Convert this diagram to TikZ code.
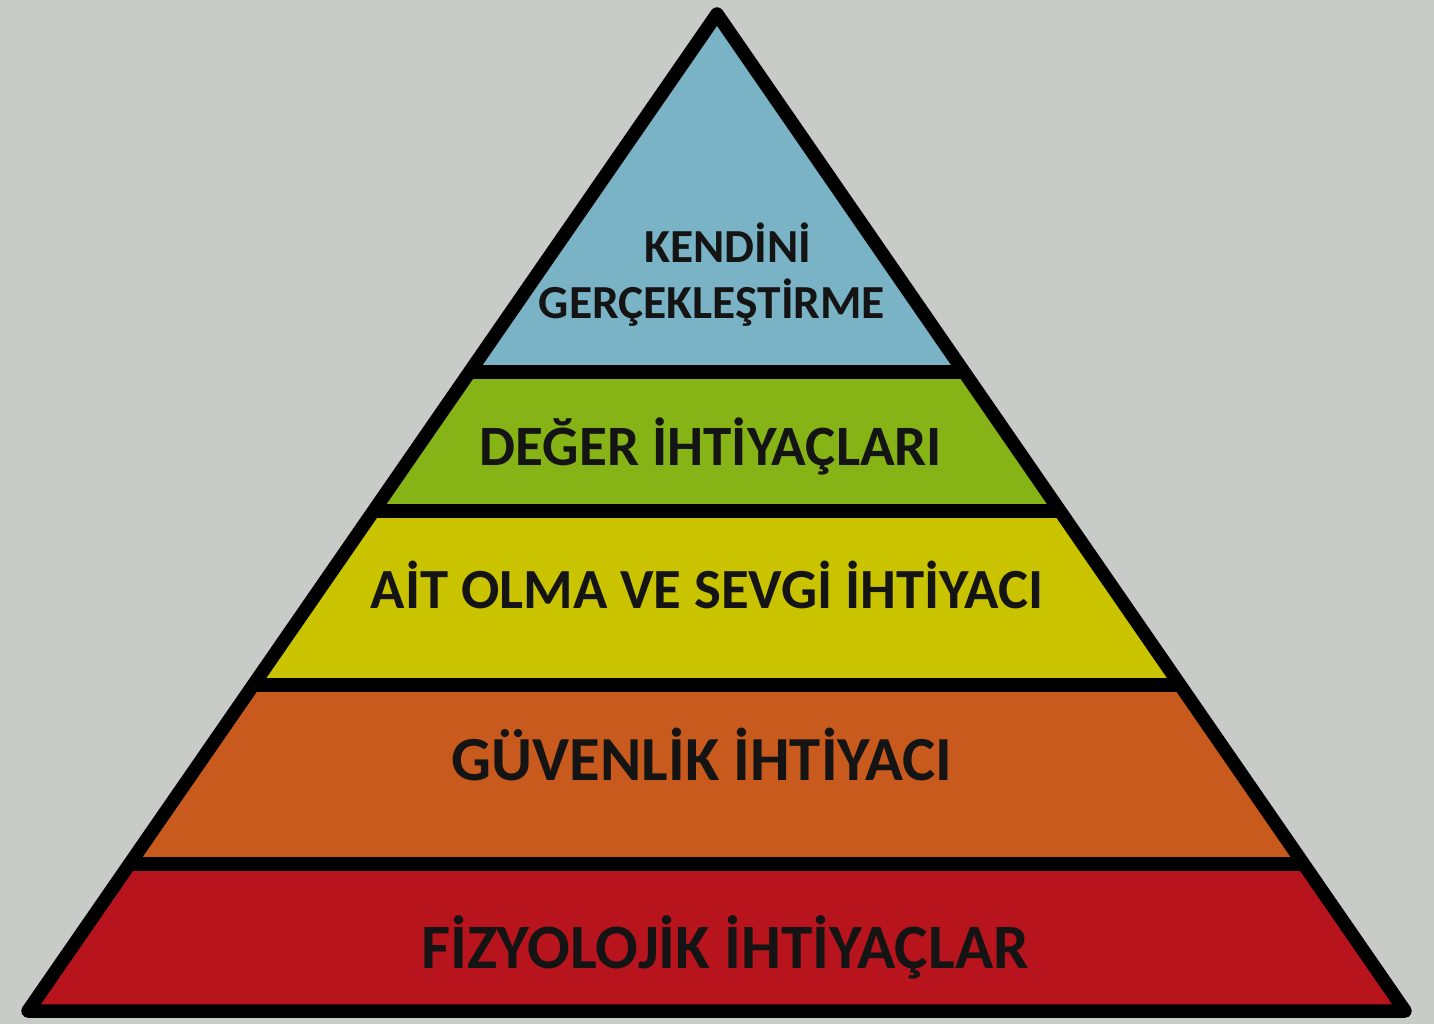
\documentclass[tikz,border=0pt]{standalone}
\usepackage{fontspec}
\setmainfont{Carlito}
\usetikzlibrary{calc}
\definecolor{bgGray}{HTML}{C9CBC8}
\definecolor{selfBlue}{HTML}{7AB3C6}
\definecolor{esteemGreen}{HTML}{86B315}
\definecolor{loveYellow}{HTML}{C9C300}
\definecolor{safeOrange}{HTML}{C85A1D}
\definecolor{bodyRed}{HTML}{B8141D}
\definecolor{inkBlack}{HTML}{141414}
\begin{document}
\begin{tikzpicture}[x=0.02cm,y=-0.02cm,
    outline/.style={line width=2.7mm,draw=black,line join=round},
    level/.style={anchor=base,text=inkBlack,font=\fontsize{#1}{40pt}\selectfont\bfseries},
    toplevel/.style={level=27pt}]
  \fill[bgGray] (0,0) rectangle (1434,1024);
  \coordinate (apex) at (717,14);
  \coordinate (left) at (28,1011);
  \coordinate (right) at (1405,1011);
  \foreach \t [count=\i] in {0.359,0.4985,0.673,0.8526}{
    \coordinate (l\i) at ($(apex)!\t!(left)$);
    \coordinate (r\i) at ($(apex)!\t!(right)$);
  }
  \fill[selfBlue] (apex) -- (r1) -- (l1) -- cycle;
  \fill[esteemGreen] (l1) -- (r1) -- (r2) -- (l2) -- cycle;
  \fill[loveYellow] (l2) -- (r2) -- (r3) -- (l3) -- cycle;
  \fill[safeOrange] (l3) -- (r3) -- (r4) -- (l4) -- cycle;
  \fill[bodyRed] (l4) -- (r4) -- (right) -- (left) -- cycle;
  \draw[outline] (apex) -- (right) -- (left) -- cycle;
  \foreach \i in {1,...,4}
    \draw[outline] (l\i) -- (r\i);
  \node[toplevel] (self1) at (728,262) {KENDİNİ};
  \node[toplevel] (self2) at (712,318) {GERÇEKLEŞTİRME};
  \node[level=32.5pt] (esteem) at (711,465) {DEĞER İHTİYAÇLARI};
  \node[level=32.3pt] (love) at (707,608) {AİT OLMA VE SEVGİ İHTİYACI};
  \node[level=35.7pt] (safety) at (702,780) {GÜVENLİK İHTİYACI};
  \node[level=36pt] (body) at (725,968) {FİZYOLOJİK İHTİYAÇLAR};
\end{tikzpicture}
\end{document}
